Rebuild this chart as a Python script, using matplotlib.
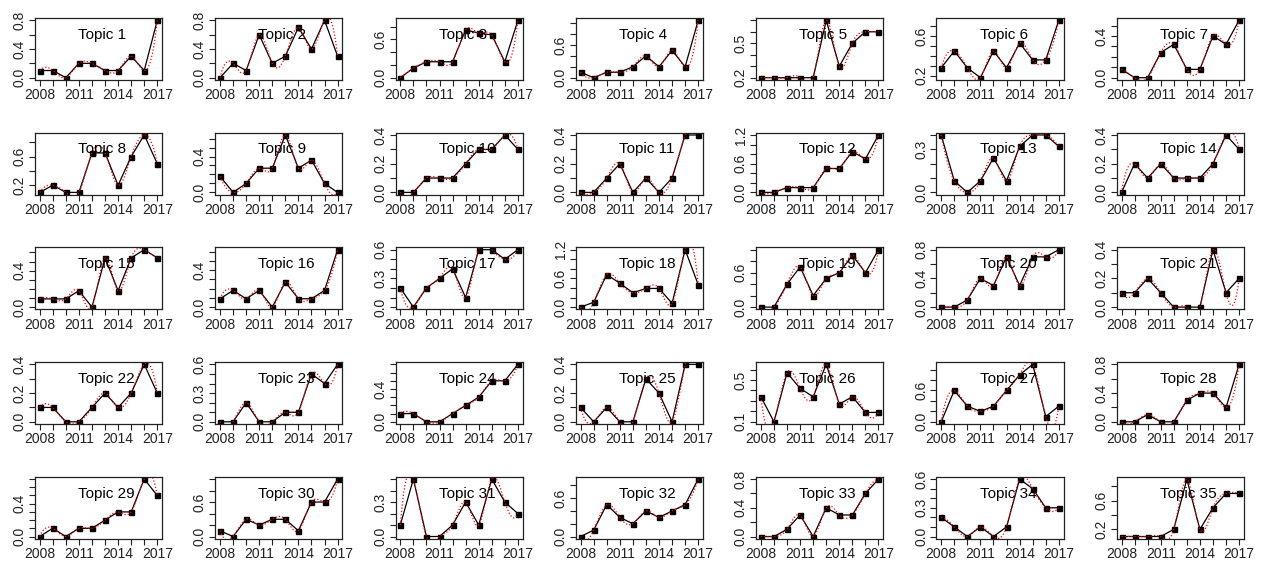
import numpy as np
import matplotlib.pyplot as plt

plt.rcParams['font.family'] = ['Liberation Sans', 'DejaVu Sans']

years = np.arange(2008, 2018)
year_labels = [2008, 2011, 2014, 2017]

# yearly share per topic, 2008..2017
topic_01 = [0.1, 0.1, 0.0, 0.2, 0.2, 0.1, 0.1, 0.3, 0.1, 0.8]
topic_02 = [0.0, 0.2, 0.1, 0.6, 0.2, 0.3, 0.7, 0.4, 0.8, 0.3]
topic_03 = [0.0, 0.15, 0.25, 0.25, 0.25, 0.75, 0.7, 0.67, 0.25, 0.9]
topic_04 = [0.1, 0.0, 0.1, 0.1, 0.2, 0.4, 0.2, 0.5, 0.2, 1.05]
topic_05 = [0.2, 0.2, 0.2, 0.2, 0.2, 0.7, 0.3, 0.5, 0.6, 0.6]
topic_06 = [0.28, 0.45, 0.28, 0.18, 0.45, 0.28, 0.53, 0.36, 0.36, 0.76]
topic_07 = [0.08, 0.0, 0.0, 0.24, 0.32, 0.08, 0.08, 0.4, 0.32, 0.55]
topic_08 = [0.1, 0.2, 0.1, 0.1, 0.65, 0.65, 0.2, 0.6, 0.9, 0.5]
topic_09 = [0.18, 0.0, 0.1, 0.27, 0.27, 0.64, 0.27, 0.36, 0.1, 0.0]
topic_10 = [0.0, 0.0, 0.1, 0.1, 0.1, 0.2, 0.3, 0.3, 0.4, 0.3]
topic_11 = [0.0, 0.0, 0.1, 0.2, 0.0, 0.1, 0.0, 0.1, 0.4, 0.4]
topic_12 = [0.0, 0.0, 0.1, 0.1, 0.1, 0.5, 0.5, 0.85, 0.7, 1.2]
topic_13 = [0.4, 0.08, 0.0, 0.08, 0.24, 0.08, 0.32, 0.4, 0.4, 0.32]
topic_14 = [0.0, 0.2, 0.1, 0.2, 0.1, 0.1, 0.1, 0.2, 0.4, 0.3]
topic_15 = [0.09, 0.09, 0.09, 0.18, 0.0, 0.54, 0.18, 0.54, 0.63, 0.54]
topic_16 = [0.09, 0.18, 0.09, 0.18, 0.0, 0.27, 0.09, 0.09, 0.18, 0.62]
topic_17 = [0.2, 0.0, 0.2, 0.3, 0.4, 0.1, 0.6, 0.6, 0.5, 0.6]
topic_18 = [0.0, 0.1, 0.68, 0.5, 0.3, 0.39, 0.39, 0.08, 1.2, 0.47]
topic_19 = [0.0, 0.0, 0.4, 0.7, 0.2, 0.5, 0.6, 0.9, 0.6, 1.0]
topic_20 = [0.0, 0.0, 0.1, 0.4, 0.3, 0.7, 0.3, 0.7, 0.7, 0.8]
topic_21 = [0.1, 0.1, 0.2, 0.1, 0.0, 0.0, 0.0, 0.4, 0.1, 0.2]
topic_22 = [0.1, 0.1, 0.0, 0.0, 0.1, 0.2, 0.1, 0.2, 0.4, 0.2]
topic_23 = [0.0, 0.0, 0.2, 0.0, 0.0, 0.1, 0.1, 0.5, 0.4, 0.6]
topic_24 = [0.1, 0.1, 0.0, 0.0, 0.1, 0.2, 0.3, 0.5, 0.5, 0.7]
topic_25 = [0.1, 0.0, 0.1, 0.0, 0.0, 0.3, 0.2, 0.0, 0.4, 0.4]
topic_26 = [0.34, 0.1, 0.57, 0.42, 0.34, 0.65, 0.27, 0.34, 0.19, 0.19]
topic_27 = [0.0, 0.6, 0.3, 0.2, 0.3, 0.6, 0.9, 1.1, 0.1, 0.3]
topic_28 = [0.0, 0.0, 0.1, 0.0, 0.0, 0.3, 0.4, 0.4, 0.2, 0.8]
topic_29 = [0.0, 0.1, 0.0, 0.1, 0.1, 0.2, 0.3, 0.3, 0.7, 0.5]
topic_30 = [0.1, 0.0, 0.3, 0.2, 0.3, 0.3, 0.1, 0.6, 0.6, 1.0]
topic_31 = [0.1, 0.5, 0.0, 0.0, 0.1, 0.3, 0.1, 0.5, 0.3, 0.2]
topic_32 = [0.0, 0.1, 0.5, 0.3, 0.2, 0.4, 0.3, 0.4, 0.5, 0.9]
topic_33 = [0.0, 0.0, 0.1, 0.3, 0.0, 0.4, 0.3, 0.3, 0.6, 0.8]
topic_34 = [0.2, 0.1, 0.0, 0.1, 0.0, 0.1, 0.6, 0.5, 0.3, 0.3]
topic_35 = [0.1, 0.1, 0.1, 0.1, 0.2, 0.9, 0.2, 0.5, 0.7, 0.7]

# y tick labels that get printed (the rest of the ticks stay unlabelled)
ylab_01 = [0.0, 0.4, 0.8]
ylab_02 = [0.0, 0.4, 0.8]
ylab_03 = [0.0, 0.6]
ylab_04 = [0.0, 0.6]
ylab_05 = [0.2, 0.5]
ylab_06 = [0.2, 0.6]
ylab_07 = [0.0, 0.4]
ylab_08 = [0.2, 0.6]
ylab_09 = [0.0, 0.4]
ylab_10 = [0.0, 0.2, 0.4]
ylab_11 = [0.0, 0.2, 0.4]
ylab_12 = [0.0, 0.6, 1.2]
ylab_13 = [0.0, 0.3]
ylab_14 = [0.0, 0.2, 0.4]
ylab_15 = [0.0, 0.4]
ylab_16 = [0.0, 0.4]
ylab_17 = [0.0, 0.3, 0.6]
ylab_18 = [0.0, 0.6, 1.2]
ylab_19 = [0.0, 0.6]
ylab_20 = [0.0, 0.4, 0.8]
ylab_21 = [0.0, 0.2, 0.4]
ylab_22 = [0.0, 0.2, 0.4]
ylab_23 = [0.0, 0.3, 0.6]
ylab_24 = [0.0, 0.4]
ylab_25 = [0.0, 0.2, 0.4]
ylab_26 = [0.1, 0.5]
ylab_27 = [0.0, 0.6]
ylab_28 = [0.0, 0.4, 0.8]
ylab_29 = [0.0, 0.4]
ylab_30 = [0.0, 0.6]
ylab_31 = [0.0, 0.3]
ylab_32 = [0.0, 0.6]
ylab_33 = [0.0, 0.4, 0.8]
ylab_34 = [0.0, 0.3, 0.6]
ylab_35 = [0.2, 0.6]

topics = [topic_01, topic_02, topic_03, topic_04, topic_05, topic_06, topic_07,
          topic_08, topic_09, topic_10, topic_11, topic_12, topic_13, topic_14,
          topic_15, topic_16, topic_17, topic_18, topic_19, topic_20, topic_21,
          topic_22, topic_23, topic_24, topic_25, topic_26, topic_27, topic_28,
          topic_29, topic_30, topic_31, topic_32, topic_33, topic_34, topic_35]
ylabs = [ylab_01, ylab_02, ylab_03, ylab_04, ylab_05, ylab_06, ylab_07,
         ylab_08, ylab_09, ylab_10, ylab_11, ylab_12, ylab_13, ylab_14,
         ylab_15, ylab_16, ylab_17, ylab_18, ylab_19, ylab_20, ylab_21,
         ylab_22, ylab_23, ylab_24, ylab_25, ylab_26, ylab_27, ylab_28,
         ylab_29, ylab_30, ylab_31, ylab_32, ylab_33, ylab_34, ylab_35]


def pretty_step(lo, hi, ndiv=5):
    # tick unit picked the way R's axis() does
    cell = (hi - lo) / ndiv
    base = 10 ** np.floor(np.log10(cell))
    unit = base
    if 2 * base - cell < 0.8 * (cell - unit):
        unit = 2 * base
        if 5 * base - cell < 1.7 * (cell - unit):
            unit = 5 * base
            if 10 * base - cell < 0.8 * (cell - unit):
                unit = 10 * base
    return unit


def fmm_spline(x, y, n_out=200):
    # cubic interpolating spline, end third derivatives from the 4 end points
    y = np.asarray(y, float)
    n = len(y)
    A = np.zeros((n, n))
    b = np.zeros(n)
    A[0, 0], A[0, 1] = -1, 1
    b[0] = y[3] - 3 * y[2] + 3 * y[1] - y[0]
    A[-1, -2], A[-1, -1] = -1, 1
    b[-1] = y[-1] - 3 * y[-2] + 3 * y[-3] - y[-4]
    for i in range(1, n - 1):
        A[i, i - 1:i + 2] = [1, 4, 1]
        b[i] = 6 * (y[i + 1] - 2 * y[i] + y[i - 1])
    M = np.linalg.solve(A, b)
    xs = np.linspace(x[0], x[-1], n_out)
    i = np.clip(np.floor(xs - x[0]).astype(int), 0, n - 2)
    t = xs - x[i]
    ys = (M[i] * (1 - t) ** 3 / 6 + M[i + 1] * t ** 3 / 6
          + (y[i] - M[i] / 6) * (1 - t) + (y[i + 1] - M[i + 1] / 6) * t)
    return xs, ys


W, H = 1265, 561
fig = plt.figure(figsize=(W / 100, H / 100), dpi=100)

for k, (vals, labs) in enumerate(zip(topics, ylabs)):
    r, c = divmod(k, 7)
    left = 35 + c * 180.3
    top = 18 + r * 114.7
    ax = fig.add_axes([left / W, 1 - (top + 62) / H, 127 / W, 62 / H])

    vals = np.array(vals, float)
    lo, hi = vals.min(), vals.max()
    pad = 0.04 * (hi - lo)
    ax.set_ylim(lo - pad, hi + pad)
    ax.set_xlim(years[0] - 0.36, years[-1] + 0.36)

    ax.plot(years, vals, color='black', lw=0.9, marker='s', ms=3.6)
    xs, ys = fmm_spline(years, vals)
    ax.plot(xs, ys, color='red', lw=0.9, ls=(0, (1, 1.6)))

    step = pretty_step(lo - pad, hi + pad)
    k0 = np.ceil((lo - pad) / step - 1e-9)
    k1 = np.floor((hi + pad) / step + 1e-9)
    ticks = [round(j * step, 6) + 0.0 for j in np.arange(k0, k1 + 1)]
    ax.set_yticks(ticks)
    ax.set_yticklabels(['%.1f' % v if any(abs(v - l) < 1e-6 for l in labs) else ''
                        for v in ticks], rotation=90, va='center')
    ax.set_xticks(years)
    ax.set_xticklabels([str(y) if y in year_labels else '' for y in years])

    ax.text(0.34, 0.73, 'Topic %d' % (k + 1), transform=ax.transAxes,
            ha='left', va='center', fontsize=11)
    ax.tick_params(length=4, width=0.8, pad=2, labelsize=10, colors='#222222')
    for s in ax.spines.values():
        s.set_linewidth(0.9)
        s.set_color('#222222')

fig.savefig('out.png', dpi=100)
